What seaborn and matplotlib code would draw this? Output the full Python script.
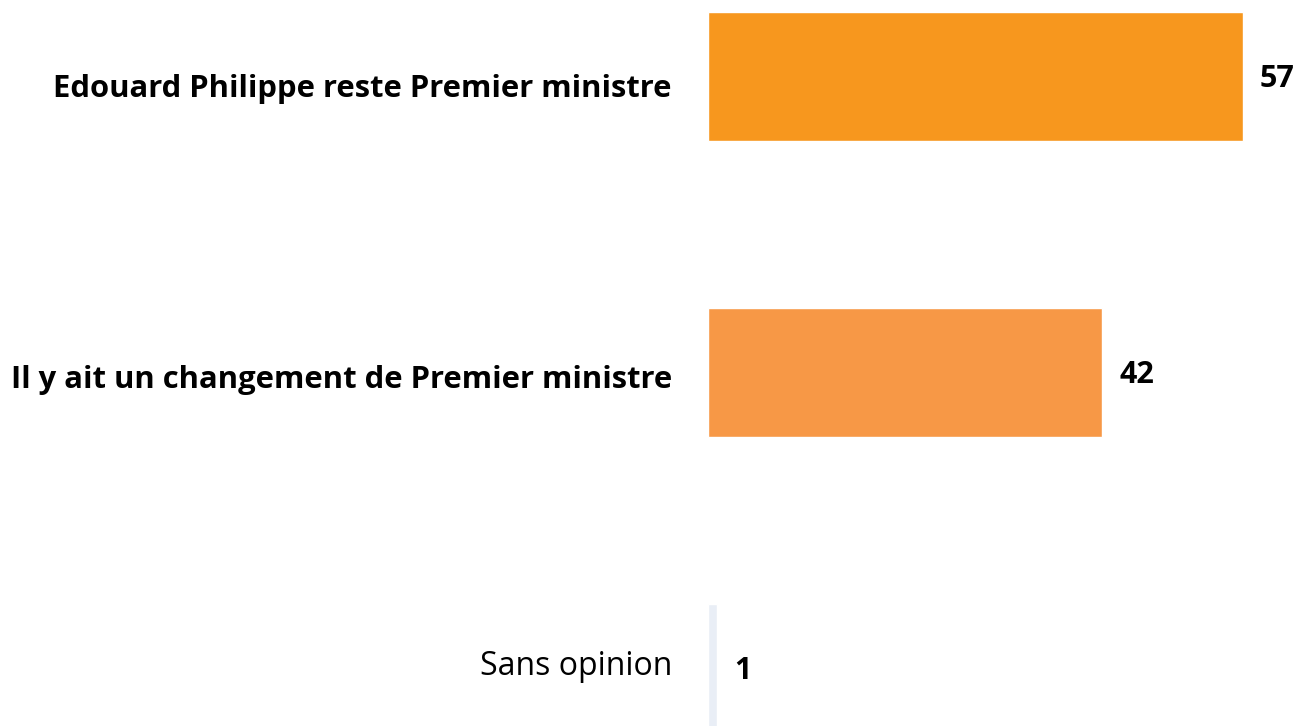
import matplotlib.pyplot as plt
import matplotlib.transforms as mtransforms
import pandas as pd
import seaborn as sns

# DATA
categories = [
    "Edouard Philippe reste Premier ministre",
    "Il y ait un changement de Premier ministre",
    "Sans opinion",
]
values = [57, 42, 1]
colors = ["#f7971e", "#f79846", "#e9eef6"]
bold_rows = [True, True, False]

df = pd.DataFrame({"label": categories, "value": values})

sns.set_style("white")
plt.rcParams["font.family"] = ["Open Sans", "DejaVu Sans"]

fig = plt.figure(figsize=(13.01, 7.26), dpi=100)
ax = fig.add_axes([708 / 1301, 0, 1 - 708 / 1301, 1])

sns.barplot(
    data=df,
    x="value",
    y="label",
    hue="label",
    palette=colors,
    saturation=1,
    orient="h",
    width=0.436,
    legend=False,
    ax=ax,
)

# value labels
for i, v in enumerate(values):
    ax.text(v + 1.8, i + 0.01, str(v), ha="left", va="center",
            fontsize=22, fontweight="bold", color="black")

ax.set_xlim(0, 593 / 9.386)
ax.set_ylim(726 / 296 - 76.5 / 296, -76.5 / 296)

ax.set_xlabel("")
ax.set_ylabel("")
ax.set_xticks([])
ax.tick_params(axis="y", length=0, pad=26)
shifts = [-9, -4, 6]  # px, small vertical nudges of the category labels
for lbl, b, s in zip(ax.get_yticklabels(), bold_rows, shifts):
    lbl.set_fontsize(22.3 if b else 23)
    lbl.set_fontweight("bold" if b else "normal")
    lbl.set_color("black")
    lbl.set_transform(lbl.get_transform() +
                      mtransforms.ScaledTranslation(0, s / 100, fig.dpi_scale_trans))

sns.despine(ax=ax, left=True, bottom=True)

plt.savefig("out.png", dpi=100)
